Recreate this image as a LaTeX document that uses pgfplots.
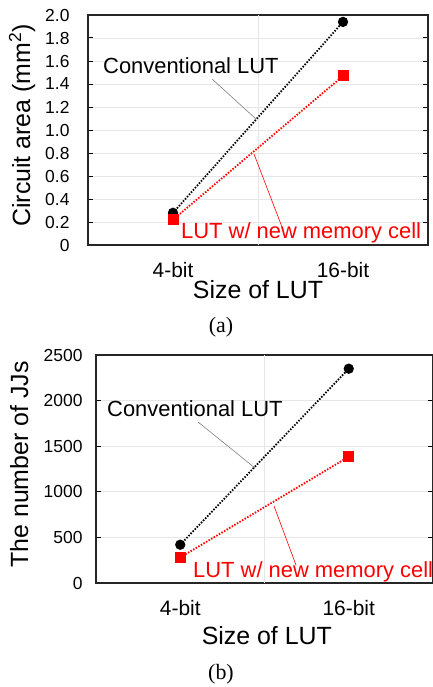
\documentclass[border=0pt]{standalone}
\usepackage{pgfplots}
\pgfplotsset{compat=1.18}
\usepackage{fontspec}
\setmainfont{Liberation Sans}
\newfontfamily\capserif{Liberation Serif}
\definecolor{gridgray}{HTML}{E6E6E6}
\definecolor{leadgray}{HTML}{808080}
\pgfplotsset{
  lutstyle/.style={
    scale only axis, anchor=south west,
    xmin=0, xmax=2,
    xtick={0.5,1.5}, xticklabels={4-bit,16-bit},
    xtick style={draw=none},
    extra x ticks={1}, extra x tick labels={},
    extra x tick style={grid=major, major tick length=0pt},
    ymajorgrids,
    grid style={color=gridgray, line width=0.8bp},
    tick align=inside, ytick pos=both,
    major tick length=5bp,
    ytick style={line width=1bp, black},
    axis line style={line width=1.3bp, black!85},
    /pgf/number format/assume math mode=true,
    yticklabel style={font=\fontsize{17.5}{20}\selectfont},
    xticklabel style={font=\fontsize{21}{24}\selectfont, yshift=-14bp},
    label style={font=\fontsize{25}{28}\selectfont},
    clip=false,
  },
  conv/.style={black, line width=1.8bp, dash pattern=on 1.5bp off 1.5bp,
    mark=*, mark size=4.2bp, mark options={solid, fill=black}},
  newc/.style={red, line width=1.8bp, dash pattern=on 1.5bp off 1.5bp,
    mark=square*, mark size=4.6bp, mark options={solid, fill=red}},
}
\begin{document}
\begin{tikzpicture}[x=1bp,y=1bp]
\path[use as bounding box] (0,0) rectangle (432,-687);
% ---------------- (a) ----------------
\begin{axis}[lutstyle,
  at={(88bp,-245bp)}, width=340bp, height=230bp,
  ymin=0, ymax=2.0,
  ytick={0,0.2,0.4,0.6,0.8,1.0,1.2,1.4,1.6,1.8,2.0},
  yticklabels={0,0.2,0.4,0.6,0.8,1.0,1.2,1.4,1.6,1.8,2.0},
  yticklabel style={xshift=-15bp},
  xlabel={Size of LUT},
  xlabel style={at={(axis description cs:0.5,-0.196)}, anchor=center},
  ylabel={Circuit area (mm\textsuperscript{2})},
  ylabel style={at={(axis description cs:-0.194,0.52)}, anchor=center, rotate=0},
]
\addplot[conv] coordinates {(0.5,0.28) (1.5,1.94)};
\addplot[newc] coordinates {(0.5,0.22) (1.5,1.47)};
\end{axis}
\draw[leadgray, line width=0.6bp] (212,-79) -- (256,-119);
\draw[red, line width=0.6bp] (254,-154) -- (282,-227);
\node[anchor=base west, inner sep=0pt, font=\fontsize{22}{25}\selectfont] at (103,-74) {Conventional LUT};
\node[anchor=base west, inner sep=0pt, text=red, font=\fontsize{22}{25}\selectfont] at (181,-238) {LUT w/ new memory cell};
\node[anchor=center, inner sep=0pt, font=\capserif\fontsize{22}{25}\selectfont] at (221,-327) {(a)};
% ---------------- (b) ----------------
\begin{axis}[lutstyle,
  at={(96bp,-583bp)}, width=337bp, height=228bp,
  ymin=0, ymax=2500,
  ytick={0,500,1000,1500,2000,2500},
  yticklabels={0,500,1000,1500,2000,2500},
  yticklabel style={xshift=-10bp},
  xlabel={Size of LUT},
  xlabel style={at={(axis description cs:0.507,-0.232)}, anchor=center},
  ylabel={The number of JJs},
  ylabel style={at={(axis description cs:-0.228,0.52)}, anchor=center},
]
\addplot[conv] coordinates {(0.5,420) (1.5,2350)};
\addplot[newc] coordinates {(0.5,280) (1.5,1385)};
\end{axis}
\draw[leadgray, line width=0.6bp] (198,-422) -- (255,-468);
\draw[red, line width=0.6bp] (274,-506) -- (296,-565);
\node[anchor=base west, inner sep=0pt, font=\fontsize{22}{25}\selectfont] at (107,-416) {Conventional LUT};
\node[anchor=base west, inner sep=0pt, text=red, font=\fontsize{22}{25}\selectfont] at (193,-577) {LUT w/ new memory cell};
\node[anchor=center, inner sep=0pt, font=\capserif\fontsize{22}{25}\selectfont] at (221,-674) {(b)};
\end{tikzpicture}
\end{document}
